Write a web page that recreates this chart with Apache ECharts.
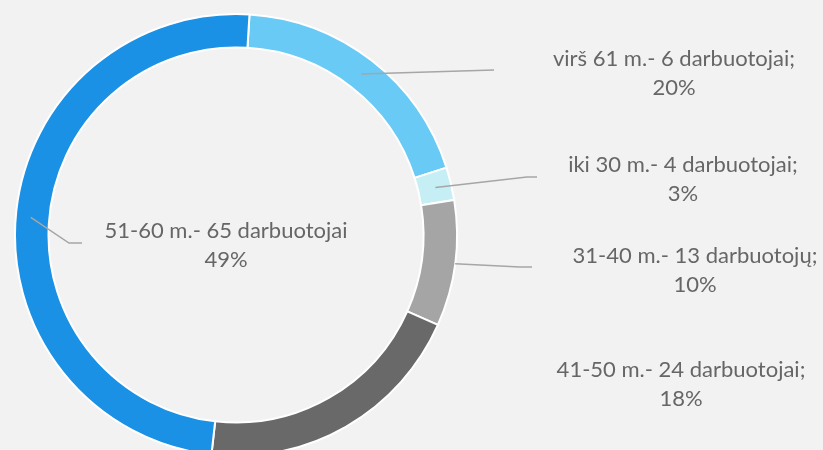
<!DOCTYPE html>
<html>
<head>
<meta charset="utf-8">
<script src="https://cdn.jsdelivr.net/npm/echarts@6/dist/echarts.min.js"></script>
<style>
  html, body { margin: 0; padding: 0; background: #f2f2f2; }
  #app { width: 823px; height: 450px; }
</style>
</head>
<body>
<div id="app"></div>
<script>
const categories = [
  "virš 61 m.- 6 darbuotojai;",
  "iki 30 m.- 4 darbuotojai;",
  "31-40 m.- 13 darbuotojų;",
  "41-50 m.- 24 darbuotojai;",
  "51-60 m.- 65 darbuotojai",
];
const percentLabels = ["20%", "3%", "10%", "18%", "49%"];
const sliceValues = [19.1, 2.4, 9.2, 20.1, 49.2];

const colors = ["#69caf5", "#c5eff4", "#a5a5a5", "#696969", "#1a91e5"];

// layout
const CX = 236, CY = 235, R0 = 187.5, R1 = 221, START = 86.5;
const labelPos = [[674, 73], [683, 179], [695, 270], [681, 384], [226, 245]];
const lineStartR = [204, 205, 221, null, 206];
const lineTail = [
  [[494, 70], [494, 70]],
  [[527, 177], [537, 177]],
  [[520, 267], [532, 267]],
  null,
  [[69, 243], [82, 243]],
];

const total = sliceValues.reduce((a, b) => a + b, 0);
const midAngle = [];
let cum = 0;
for (let i = 0; i < sliceValues.length; i++) {
  midAngle.push((90 - START) + ((cum + sliceValues[i] / 2) / total) * 360);
  cum += sliceValues[i];
}

const myChart = echarts.init(document.getElementById("app"));

const base = {
  type: "pie",
  center: [CX, CY],
  radius: [R0, R1],
  startAngle: START,
  clockwise: true,
  avoidLabelOverlap: false,
  emphasis: { disabled: true },
  silent: true,
};

const option = {
  backgroundColor: "#f2f2f2",
  animation: false,
  series: [
    // the ring itself
    Object.assign({}, base, {
      z: 2,
      itemStyle: { borderColor: "#ffffff", borderWidth: 2 },
      label: { show: false },
      labelLine: { show: false },
      data: categories.map((name, i) => ({
        name: name,
        value: sliceValues[i],
        itemStyle: { color: colors[i] },
      })),
    }),
    // labels + leader lines drawn on top of the ring
    Object.assign({}, base, {
      z: 5,
      itemStyle: { color: "rgba(0,0,0,0)", borderWidth: 0 },
      label: {
        show: true,
        position: "outside",
        color: "#666666",
        fontFamily: "Lato",
        fontSize: 22,
        lineHeight: 29,
        align: "center",
        formatter: (p) => p.name + "\n" + percentLabels[p.dataIndex],
      },
      labelLine: {
        show: true,
        lineStyle: { color: "#a6a6a6", width: 1.5 },
      },
      labelLayout: function (params) {
        const i = params.dataIndex;
        const res = {
          x: labelPos[i][0],
          y: labelPos[i][1],
          align: "center",
          verticalAlign: "middle",
        };
        if (lineTail[i]) {
          const a = (midAngle[i] * Math.PI) / 180;
          const r = lineStartR[i];
          const p0 = [CX + r * Math.sin(a), CY - r * Math.cos(a)];
          res.labelLinePoints = [p0, lineTail[i][0], lineTail[i][1]];
        }
        return res;
      },
      data: categories.map((name, i) => ({
        name: name,
        value: sliceValues[i],
        labelLine: { show: lineTail[i] !== null },
      })),
    }),
  ],
};
myChart.setOption(option);
</script>
</body>
</html>
